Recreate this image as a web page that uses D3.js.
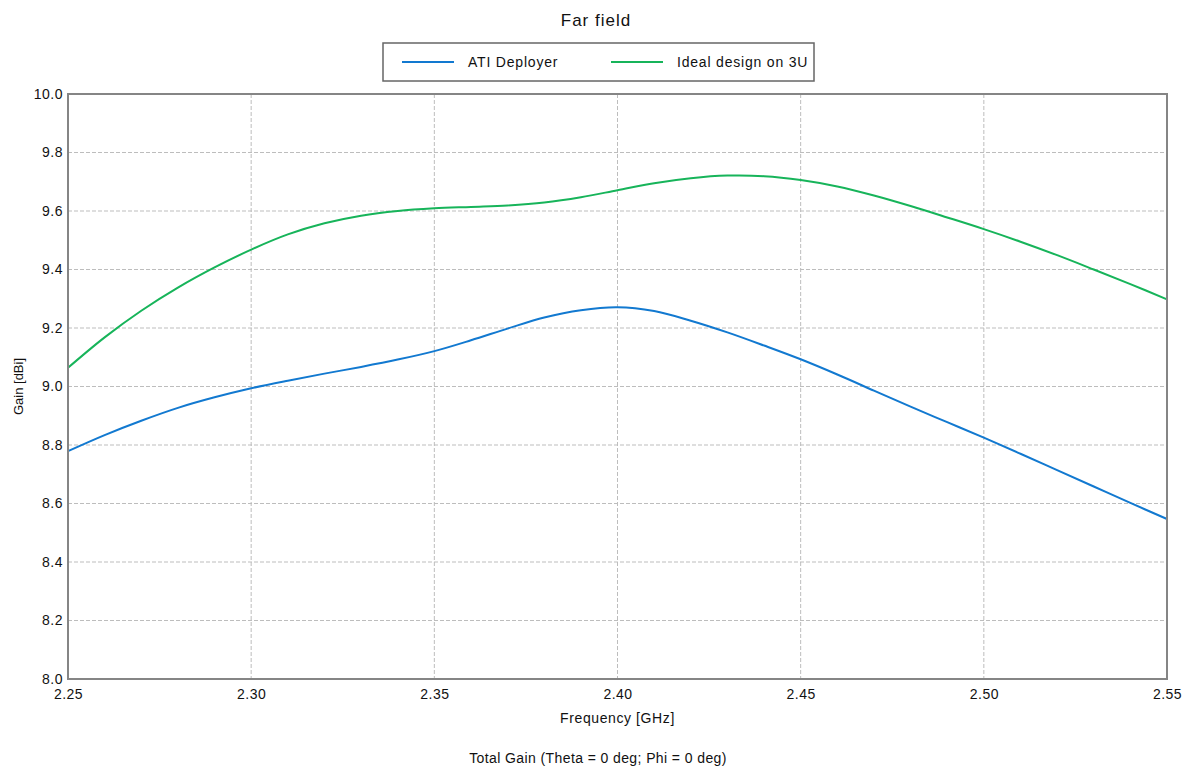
<!DOCTYPE html>
<html>
<head>
<meta charset="utf-8">
<script src="https://d3js.org/d3.v7.min.js"></script>
<style>
  body { margin: 0; background: #fff; }
  text { font-family: "Liberation Sans", Arial, sans-serif; fill: #111; }
  .tick text { font-size: 14px; letter-spacing: 0.5px; }
  .grid line { stroke: #bdbdbd; stroke-dasharray: 4,2; }
</style>
</head>
<body>
<div id="chart"></div>
<script>
// frequency samples [GHz]
var freq = [2.25, 2.26, 2.27, 2.28, 2.29, 2.30, 2.31, 2.32, 2.33, 2.34, 2.35,
  2.36, 2.37, 2.38, 2.39, 2.40, 2.41, 2.42, 2.43, 2.44, 2.45,
  2.46, 2.47, 2.48, 2.49, 2.50, 2.51, 2.52, 2.53, 2.54, 2.55];

// gain [dBi]
var atiDeployer = [8.779, 8.834, 8.883, 8.927, 8.963, 8.994, 9.020, 9.044, 9.067, 9.092, 9.121,
  9.158, 9.198, 9.236, 9.261, 9.271, 9.258, 9.225, 9.185, 9.140, 9.093,
  9.041, 8.986, 8.931, 8.878, 8.825, 8.770, 8.714, 8.658, 8.602, 8.547];

var idealDesign = [9.064, 9.168, 9.259, 9.338, 9.407, 9.468, 9.520, 9.558, 9.584, 9.600, 9.609,
  9.614, 9.619, 9.629, 9.647, 9.671, 9.695, 9.712, 9.721, 9.719, 9.706,
  9.684, 9.653, 9.617, 9.578, 9.538, 9.495, 9.449, 9.400, 9.350, 9.298];

var seriesNames = ["ATI Deployer", "Ideal design on 3U"];
var seriesColors = ["#1279d0", "#17b45a"];

var xTicks = [2.25, 2.30, 2.35, 2.40, 2.45, 2.50, 2.55];
var yTicks = [8.0, 8.2, 8.4, 8.6, 8.8, 9.0, 9.2, 9.4, 9.6, 9.8, 10.0];

var svgWidth = 1190;
var svgHeight = 771;

var margin = { top: 94, right: 23, bottom: 92, left: 68 };
var width = svgWidth - margin.left - margin.right;
var height = svgHeight - margin.top - margin.bottom;

var svg = d3.select("#chart")
  .append("svg")
  .attr("width", svgWidth)
  .attr("height", svgHeight);

var chartGroup = svg.append("g")
  .attr("transform", `translate(${margin.left}, ${margin.top})`);

var xScale = d3.scaleLinear().domain([2.25, 2.55]).range([0, width]);
var yScale = d3.scaleLinear().domain([8.0, 10.0]).range([height, 0]);

// grid lines
chartGroup.append("g")
  .attr("class", "grid")
  .selectAll("line")
  .data(xTicks.slice(1, -1))
  .enter()
  .append("line")
  .attr("x1", d => xScale(d))
  .attr("x2", d => xScale(d))
  .attr("y1", 0)
  .attr("y2", height);

chartGroup.append("g")
  .attr("class", "grid")
  .selectAll("line")
  .data(yTicks.slice(1, -1))
  .enter()
  .append("line")
  .attr("x1", 0)
  .attr("x2", width)
  .attr("y1", d => yScale(d))
  .attr("y2", d => yScale(d));

// axes (labels only, frame drawn separately)
var bottomAxis = d3.axisBottom(xScale)
  .tickValues(xTicks)
  .tickSize(0)
  .tickPadding(10)
  .tickFormat(d3.format(".2f"));

var leftAxis = d3.axisLeft(yScale)
  .tickValues(yTicks)
  .tickSize(0)
  .tickPadding(5)
  .tickFormat(d3.format(".1f"));

var xAxis = chartGroup.append("g")
  .attr("transform", `translate(0, ${height})`)
  .call(bottomAxis);

var yAxis = chartGroup.append("g")
  .call(leftAxis);

xAxis.select(".domain").remove();
yAxis.select(".domain").remove();
xAxis.selectAll("text").attr("fill", "#111");
yAxis.selectAll("text").attr("fill", "#111");

// curves
var line = d3.line()
  .x((d, i) => xScale(freq[i]))
  .y(d => yScale(d))
  .curve(d3.curveCatmullRom.alpha(0.5));

[atiDeployer, idealDesign].forEach(function(values, i) {
  chartGroup.append("path")
    .datum(values)
    .attr("fill", "none")
    .attr("stroke", seriesColors[i])
    .attr("stroke-width", 2)
    .attr("d", line);
});

// plot frame
chartGroup.append("rect")
  .attr("width", width)
  .attr("height", height)
  .attr("fill", "none")
  .attr("stroke", "#858585")
  .attr("stroke-width", 2);

// title
svg.append("text")
  .attr("x", 596)
  .attr("y", 26)
  .attr("text-anchor", "middle")
  .attr("font-size", "17px")
  .attr("letter-spacing", "1px")
  .text("Far field");

// legend
var legend = svg.append("g");

legend.append("rect")
  .attr("x", 383)
  .attr("y", 43)
  .attr("width", 431)
  .attr("height", 38)
  .attr("fill", "#fff")
  .attr("stroke", "#666")
  .attr("stroke-width", 1.5);

var legendX = [402, 611];
seriesNames.forEach(function(name, i) {
  legend.append("line")
    .attr("x1", legendX[i])
    .attr("x2", legendX[i] + 52)
    .attr("y1", 62)
    .attr("y2", 62)
    .attr("stroke", seriesColors[i])
    .attr("stroke-width", 2);
  legend.append("text")
    .attr("x", legendX[i] + 66)
    .attr("y", 67)
    .attr("font-size", "14px")
    .attr("letter-spacing", "0.8px")
    .text(name);
});

// axis titles
svg.append("text")
  .attr("x", margin.left + width / 2)
  .attr("y", 723)
  .attr("text-anchor", "middle")
  .attr("font-size", "14px")
  .attr("letter-spacing", "0.6px")
  .text("Frequency [GHz]");

svg.append("text")
  .attr("transform", `translate(23, ${margin.top + height / 2}) rotate(-90)`)
  .attr("text-anchor", "middle")
  .attr("font-size", "13px")
  .text("Gain [dBi]");

svg.append("text")
  .attr("x", 598)
  .attr("y", 763)
  .attr("text-anchor", "middle")
  .attr("font-size", "14px")
  .attr("letter-spacing", "0.4px")
  .text("Total Gain (Theta = 0 deg; Phi = 0 deg)");
</script>
</body>
</html>
